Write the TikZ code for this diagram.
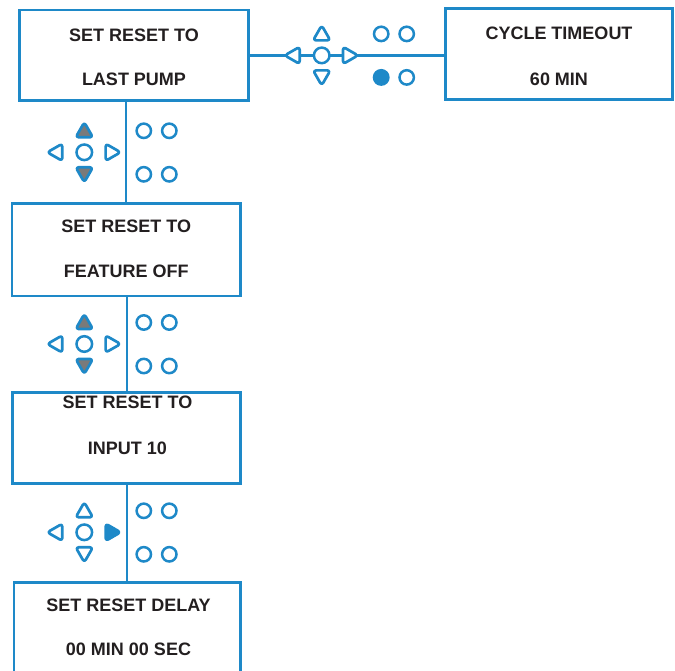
\documentclass[tikz,border=0pt]{standalone}
\usepackage{fontspec}
\setmainfont{Liberation Sans}
\definecolor{kblue}{RGB}{30,137,200}
\definecolor{kgray}{RGB}{122,122,122}
\definecolor{ktext}{RGB}{35,31,32}
\tikzset{
  box/.style={draw=kblue,line width=2.6pt,inner sep=0pt},
  txt/.style={text=ktext,font=\bfseries\fontsize{18}{20}\selectfont,inner sep=0pt,text height=13pt,text depth=0pt},
  conn/.style={draw=kblue,line width=2.3pt},
  key/.style={draw=kblue,line width=2.7pt,rounded corners=3pt,line join=round},
  dot/.style={draw=kblue,line width=2.5pt}
}
\newcommand\kpad[6]{%
  \begin{scope}[shift={(#1,#2)}]
    \draw[key,fill=#3] (0,-30) -- (8.6,-15) -- (-8.6,-15) -- cycle;
    \draw[key,fill=#4] (0,30) -- (8.6,15) -- (-8.6,15) -- cycle;
    \draw[key,fill=white] (-37,0) -- (-22,-8.6) -- (-22,8.6) -- cycle;
    \draw[key,fill=#5] (36.3,0) -- (21.3,-8.6) -- (21.3,8.6) -- cycle;
    \draw[dot,fill=white] (0,0) circle[radius=7.8];
    \draw[dot,fill=white] (59.5,-21.5) circle[radius=7.2];
    \draw[dot,fill=white] (85,-21.5) circle[radius=7.2];
    \draw[dot,fill=#6] (59.5,22) circle[radius=7.2];
    \draw[dot,fill=white] (85,22) circle[radius=7.2];
  \end{scope}}
\begin{document}
\begin{tikzpicture}[x=1pt,y=-1pt]
\useasboundingbox (0,0) rectangle (675,671);
\clip (0,0) rectangle (675,671);
% boxes
\node[box,minimum width=229pt,minimum height=90.7pt] (b1) at (134,55.4) {};
\node[box,minimum width=227pt,minimum height=91pt] (cyc) at (558.8,53.8) {};
\node[box,minimum width=228.7pt,minimum height=92.7pt] (b2) at (126.3,249.7) {};
\node[box,minimum width=228pt,minimum height=91pt] (b3) at (126.7,437.8) {};
\node[box,minimum width=226.7pt,minimum height=91.6pt] (b4) at (127.3,628.5) {};
% connectors
\draw[conn] (b1.east) -- (b1.east -| cyc.west);
\draw[conn] (b2.north) -- (b2.north |- b1.south);
\draw[conn] (b3.north) -- (b3.north |- b2.south);
\draw[conn] (b4.north) -- (b4.north |- b3.south);
% texts
\node[txt] (b1a) at (134,35) {SET RESET TO};
\node[txt] (b1b) at (134,79) {LAST PUMP};
\node[txt] (cyca) at (559,33) {CYCLE TIMEOUT};
\node[txt] (cycb) at (559,78.8) {60 MIN};
\node[txt] (b2a) at (126.3,226.3) {SET RESET TO};
\node[txt] (b2b) at (126.3,270.8) {FEATURE OFF};
\node[txt] (b3a) at (127.5,402.2) {SET RESET TO};
\node[txt] (b3b) at (127.5,448) {INPUT 10};
\node[txt] (b4a) at (128.5,604.7) {SET RESET DELAY};
\node[txt] (b4b) at (128.5,648.8) {00 MIN 00 SEC};
% keypads
\kpad{321.7}{55.4}{white}{white}{white}{kblue}
\kpad{84.3}{152.3}{kgray}{kgray}{white}{white}
\kpad{84.3}{344}{kgray}{kgray}{white}{white}
\kpad{84.3}{532.3}{white}{white}{kblue}{white}
\end{tikzpicture}
\end{document}
